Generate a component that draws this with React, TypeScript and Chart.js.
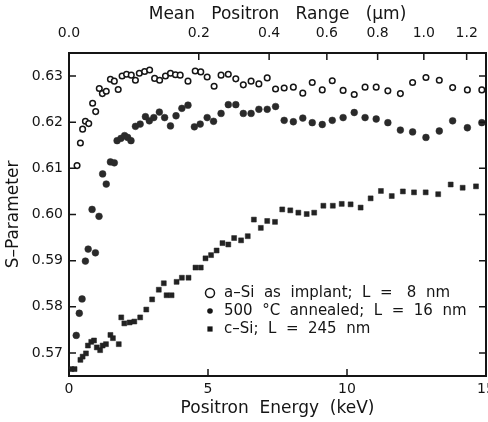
import { useEffect, useRef } from "react";
import { Chart, registerables } from "chart.js";

Chart.register(...registerables);

const FONT = "'DejaVu Sans', sans-serif";
const INK = "#151515";

// Bottom axis (positron energy, keV) and left axis (S-parameter) tick values
const energyTicks = [0, 5, 10, 15];
const sTicks = [0.57, 0.58, 0.59, 0.6, 0.61, 0.62, 0.63];
// Top axis: mean positron range (µm)
const rangeTicks = [0.0, 0.2, 0.4, 0.6, 0.8, 1.0, 1.2];

const legendLabels = [
  "a–Si  as  implant;  L  =   8  nm",
  "500  °C  annealed;  L  =  16  nm",
  "c–Si;  L  =  245  nm",
];

// a-Si as implanted (open circles)
const aSiE = [0.29, 0.41, 0.49, 0.59, 0.71, 0.85, 0.96, 1.09, 1.2, 1.34, 1.49, 1.63, 1.77, 1.91, 2.07, 2.24, 2.39, 2.53, 2.72, 2.9, 3.08, 3.26, 3.47, 3.65, 3.83, 4.0, 4.28, 4.54, 4.74, 4.97, 5.22, 5.47, 5.73, 6.0, 6.27, 6.55, 6.83, 7.13, 7.43, 7.74, 8.07, 8.41, 8.75, 9.11, 9.47, 9.86, 10.26, 10.65, 11.05, 11.47, 11.92, 12.36, 12.84, 13.32, 13.8, 14.33, 14.85];
const aSiS = [0.6106, 0.6155, 0.6185, 0.6202, 0.6197, 0.6241, 0.6223, 0.6273, 0.6262, 0.6267, 0.6293, 0.6289, 0.6271, 0.63, 0.6304, 0.6302, 0.6291, 0.6306, 0.631, 0.6313, 0.6295, 0.6291, 0.63, 0.6306, 0.6303, 0.6302, 0.6289, 0.6311, 0.6309, 0.6298, 0.6278, 0.6302, 0.6304, 0.6294, 0.6281, 0.6289, 0.6283, 0.6296, 0.6272, 0.6274, 0.6276, 0.6263, 0.6286, 0.627, 0.629, 0.6269, 0.626, 0.6276, 0.6276, 0.6268, 0.6262, 0.6286, 0.6297, 0.6291, 0.6275, 0.627, 0.627];

// 500 °C annealed (filled circles)
const annE = [0.26, 0.37, 0.47, 0.59, 0.69, 0.83, 0.95, 1.08, 1.21, 1.34, 1.49, 1.63, 1.73, 1.87, 2.0, 2.11, 2.23, 2.39, 2.56, 2.75, 2.89, 3.05, 3.25, 3.44, 3.65, 3.85, 4.06, 4.28, 4.51, 4.72, 4.97, 5.2, 5.47, 5.73, 6.0, 6.27, 6.55, 6.83, 7.13, 7.43, 7.74, 8.07, 8.41, 8.75, 9.11, 9.47, 9.86, 10.26, 10.65, 11.05, 11.47, 11.92, 12.36, 12.84, 13.32, 13.8, 14.33, 14.85];
const annS = [0.5738, 0.5786, 0.5817, 0.5899, 0.5925, 0.6011, 0.5917, 0.5996, 0.6088, 0.6066, 0.6114, 0.6112, 0.616, 0.6165, 0.6171, 0.6167, 0.616, 0.6191, 0.6196, 0.6212, 0.6203, 0.621, 0.6222, 0.621, 0.6192, 0.6214, 0.623, 0.6237, 0.619, 0.6196, 0.621, 0.6202, 0.6219, 0.6238, 0.6238, 0.6219, 0.6219, 0.6228, 0.6228, 0.6234, 0.6204, 0.6201, 0.6209, 0.6199, 0.6195, 0.6204, 0.621, 0.6221, 0.621, 0.6207, 0.6199, 0.6183, 0.6179, 0.6167, 0.6181, 0.6203, 0.6188, 0.6199];

// c-Si (filled squares)
const cSiE = [0.08, 0.2, 0.41, 0.49, 0.61, 0.68, 0.8, 0.9, 1.0, 1.12, 1.21, 1.33, 1.49, 1.58, 1.79, 1.88, 1.99, 2.18, 2.35, 2.56, 2.78, 2.99, 3.23, 3.41, 3.51, 3.69, 3.87, 4.06, 4.3, 4.55, 4.74, 4.91, 5.11, 5.31, 5.52, 5.73, 5.94, 6.19, 6.43, 6.65, 6.9, 7.13, 7.41, 7.67, 7.96, 8.25, 8.55, 8.82, 9.15, 9.49, 9.81, 10.13, 10.49, 10.85, 11.22, 11.61, 12.01, 12.41, 12.83, 13.28, 13.73, 14.16, 14.64];
const cSiS = [0.5665, 0.5665, 0.5685, 0.5692, 0.5699, 0.5716, 0.5724, 0.5727, 0.5712, 0.5706, 0.5716, 0.5719, 0.5739, 0.5732, 0.5719, 0.5777, 0.5764, 0.5766, 0.5768, 0.5777, 0.5794, 0.5816, 0.5837, 0.5851, 0.5825, 0.5825, 0.5854, 0.5863, 0.5863, 0.5885, 0.5885, 0.5905, 0.5912, 0.5922, 0.5938, 0.5935, 0.5949, 0.5944, 0.5953, 0.5989, 0.5971, 0.5986, 0.5984, 0.6011, 0.6009, 0.6004, 0.6001, 0.6004, 0.6019, 0.6019, 0.6023, 0.6022, 0.6015, 0.6035, 0.6051, 0.604, 0.605, 0.6048, 0.6048, 0.6044, 0.6065, 0.6058, 0.6061];

// Mean positron range in Si: R = A * E^1.6 nm  ->  E = (R / A)^(1/1.6)
const RANGE_A = 17;
const rangeToEnergy = (rUm: number) => Math.pow((rUm * 1000) / RANGE_A, 1 / 1.6);

const toPoints = (xs: number[], ys: number[]) => xs.map((x, i) => ({ x, y: ys[i] }));

const noSidePadding = (s: any) => {
  s.paddingLeft = 0;
  s.paddingRight = 0;
};

const inwardTicks = {
  id: "inwardTicks",
  afterDraw(chart: any) {
    const { ctx, chartArea, scales } = chart;
    const { left, right, top, bottom } = chartArea;
    const L = 7;
    ctx.save();
    ctx.strokeStyle = INK;
    ctx.lineWidth = 1.5;
    ctx.beginPath();
    energyTicks.forEach((v) => {
      const p = scales.x.getPixelForValue(v);
      ctx.moveTo(p, bottom);
      ctx.lineTo(p, bottom - L);
    });
    rangeTicks.forEach((r) => {
      const p = scales.x.getPixelForValue(rangeToEnergy(r));
      ctx.moveTo(p, top);
      ctx.lineTo(p, top + L);
    });
    sTicks.forEach((v) => {
      const p = scales.y.getPixelForValue(v);
      ctx.moveTo(left, p);
      ctx.lineTo(left + L, p);
      ctx.moveTo(right, p);
      ctx.lineTo(right - L, p);
    });
    ctx.stroke();
    ctx.restore();
  },
};

const insetLegend = {
  id: "insetLegend",
  afterDraw(chart: any) {
    const { ctx, chartArea } = chart;
    const mx = chartArea.left + 141;
    const tx = chartArea.left + 155;
    const y0 = chartArea.top + 240;
    const dy = 18;
    ctx.save();
    ctx.font = `15px ${FONT}`;
    ctx.textBaseline = "middle";
    ctx.textAlign = "left";
    ctx.fillStyle = INK;
    chart.data.datasets.forEach((ds: any, i: number) => {
      const y = y0 + i * dy;
      ctx.beginPath();
      if (i === 0) {
        ctx.strokeStyle = INK;
        ctx.lineWidth = 1.5;
        ctx.arc(mx, y, 4.5, 0, Math.PI * 2);
        ctx.stroke();
      } else if (i === 1) {
        ctx.arc(mx, y, 2.8, 0, Math.PI * 2);
        ctx.fill();
      } else {
        ctx.rect(mx - 2.6, y - 2.6, 5.2, 5.2);
        ctx.fill();
      }
      ctx.fillText(ds.label, tx, y);
    });
    ctx.restore();
  },
};

export default function App() {
  const ref = useRef<HTMLCanvasElement | null>(null);

  useEffect(() => {
    if (!ref.current) return;
    Chart.defaults.font.family = FONT;
    Chart.defaults.color = INK;
    const chart = new Chart(ref.current, {
      type: "scatter",
      data: {
        datasets: [
          {
            label: legendLabels[0],
            data: toPoints(aSiE, aSiS),
            pointStyle: "circle",
            pointRadius: 2.8,
            pointBorderWidth: 1.5,
            borderColor: INK,
            backgroundColor: "#ffffff",
          },
          {
            label: legendLabels[1],
            data: toPoints(annE, annS),
            pointStyle: "circle",
            pointRadius: 3.4,
            pointBorderWidth: 0.5,
            borderColor: "#2a2a2a",
            backgroundColor: "#2a2a2a",
          },
          {
            label: legendLabels[2],
            data: toPoints(cSiE, cSiS),
            pointStyle: "rect",
            pointRadius: 3.5,
            pointBorderWidth: 0.5,
            borderColor: "#222222",
            backgroundColor: "#222222",
          },
        ],
      },
      options: {
        responsive: false,
        animation: false,
        devicePixelRatio: 1,
        layout: { padding: 0, autoPadding: false },
        plugins: {
          legend: { display: false },
          tooltip: { enabled: false },
        },
        scales: {
          x: {
            type: "linear",
            position: "bottom",
            min: 0,
            max: 15,
            afterBuildTicks: (s: any) => {
              s.ticks = energyTicks.map((v) => ({ value: v }));
            },
            afterFit: (s: any) => {
              s.height = 46;
              noSidePadding(s);
            },
            ticks: {
              autoSkip: false,
              maxRotation: 0,
              padding: 5,
              font: { size: 14 },
              color: INK,
              callback: (v: any) => String(v),
            },
            grid: { display: false, drawTicks: false },
            border: { display: true, color: INK, width: 2 },
            title: {
              display: true,
              text: "Positron  Energy  (keV)",
              font: { size: 17 },
              color: INK,
              padding: { top: 0, bottom: 3 },
            },
          },
          x2: {
            type: "linear",
            position: "top",
            min: 0,
            max: 15,
            afterBuildTicks: (s: any) => {
              s.ticks = rangeTicks.map((r) => ({ value: rangeToEnergy(r) }));
            },
            afterFit: (s: any) => {
              s.height = 53;
              noSidePadding(s);
            },
            ticks: {
              autoSkip: false,
              maxRotation: 0,
              padding: 11,
              font: { size: 14 },
              color: INK,
              callback: (_v: any, i: number) => rangeTicks[i].toFixed(1),
            },
            grid: { display: false, drawTicks: false },
            border: { display: true, color: INK, width: 2 },
            title: {
              display: true,
              text: "Mean   Positron   Range   (μm)",
              font: { size: 17 },
              color: INK,
              padding: { top: 4, bottom: 0 },
            },
          },
          y: {
            type: "linear",
            position: "left",
            min: 0.565,
            max: 0.635,
            afterBuildTicks: (s: any) => {
              s.ticks = sTicks.map((v) => ({ value: v }));
            },
            afterFit: (s: any) => {
              s.width = 69;
            },
            ticks: {
              padding: 6,
              font: { size: 14 },
              color: INK,
              callback: (v: any) => Number(v).toFixed(2),
            },
            grid: { display: false, drawTicks: false },
            border: { display: true, color: INK, width: 2 },
            title: {
              display: true,
              text: "S–Parameter",
              font: { size: 17 },
              color: INK,
              padding: { top: 3, bottom: 0 },
            },
          },
          y2: {
            type: "linear",
            position: "right",
            min: 0.565,
            max: 0.635,
            afterBuildTicks: (s: any) => {
              s.ticks = sTicks.map((v) => ({ value: v }));
            },
            afterFit: (s: any) => {
              s.width = 2;
            },
            ticks: { display: false },
            grid: { display: false, drawTicks: false },
            border: { display: true, color: INK, width: 2 },
          },
        },
      },
      plugins: [inwardTicks, insetLegend],
    } as any);
    return () => chart.destroy();
  }, []);

  return (
    <div style={{ position: "fixed", left: 0, top: 0, width: 488, height: 422, background: "#fff" }}>
      <canvas ref={ref} width={488} height={422} style={{ display: "block", width: 488, height: 422 }} />
    </div>
  );
}
